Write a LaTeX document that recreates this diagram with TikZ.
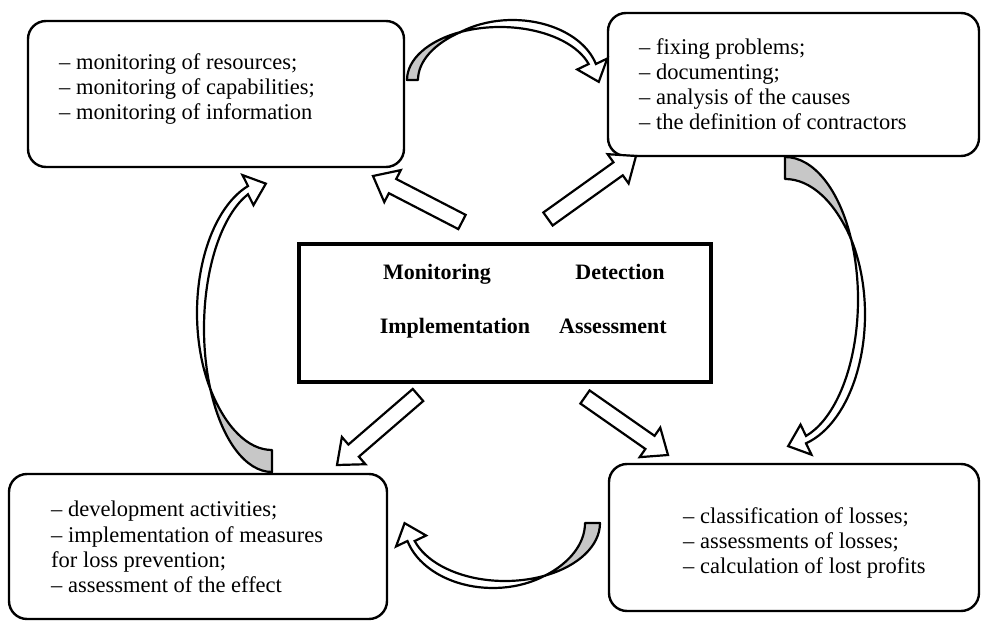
\documentclass[tikz,border=0pt]{standalone}
\usepackage{fontspec}
\setmainfont{Liberation Serif}
\usetikzlibrary{calc,positioning}

\tikzset{
  card/.style={draw, fill=white, line width=2.4pt, rounded corners=18pt, inner sep=0pt, outer sep=0pt},
  hub/.style={draw, fill=white, line width=3.6pt, inner sep=0pt, minimum width=412pt, minimum height=138pt},
  items/.style={inner sep=0pt, align=left, font=\fontsize{22.5}{25.3}\selectfont},
  stage/.style={inner sep=0pt, font=\fontsize{22}{26}\selectfont\bfseries},
  fatarr/.style={draw, fill=white, line width=2.2pt, line join=miter},
  ribtop/.style={draw, fill=white, line width=2.2pt, line join=miter},
  ribback/.style={draw, fill=black!22, line width=2.2pt, line join=round},
}

% hollow straight arrow from #1 to #2
\newcommand\fatarrow[2]{%
  \draw[fatarr] ($(#1)!8pt!90:(#2)$) -- ($(#2)!22pt!(#1)!8pt!90:(#2)$)
    -- ($(#2)!22pt!(#1)!18pt!90:(#2)$) -- (#2)
    -- ($(#2)!22pt!(#1)!18pt!-90:(#2)$) -- ($(#2)!22pt!(#1)!8pt!-90:(#2)$)
    -- ($(#1)!8pt!-90:(#2)$) -- cycle;}

% curved ribbon arrow: base, angle, span, height, base width, neck height
\newcommand\ribbon[6]{%
  \begin{scope}[shift={(#1)}, rotate=#2]
    \pgfmathsetmacro\ribA{#3/2}
    \pgfmathsetmacro\ribB{#4-7}
    \pgfmathsetmacro\ribxT{\ribA*(1+cos(115))}
    \pgfmathsetmacro\ribyT{\ribB*sin(115)}
    \pgfmathsetmacro\ribaG{(\ribxT-#5)/(1+cos(130))}
    \pgfmathsetmacro\ribbG{\ribyT/sin(130)}
    \pgfmathsetmacro\ribvO{180-asin(\ribyT/#4)}
    \pgfmathsetmacro\ribk{-1/cos(\ribvO)}
    \pgfmathsetmacro\ribc{(#3+6-\ribA-(\ribA-\ribxT)*\ribk)/(1+\ribk)}
    \pgfmathsetmacro\ribaO{(\ribA+\ribc-\ribxT)*\ribk}
    \pgfmathsetmacro\ribtN{asin(#6/\ribB)}
    \pgfmathsetmacro\ribvN{asin(#6/#4)}
    \pgfmathsetmacro\ribmx{(\ribA+\ribA*cos(\ribtN)+\ribA+\ribc+\ribaO*cos(\ribvN))/2}
    \draw[ribback] (0,0) arc[start angle=180, end angle=115, x radius=\ribA, y radius=\ribB]
      arc[start angle=130, end angle=180, x radius=\ribaG, y radius=\ribbG] -- cycle;
    \draw[ribtop] (\ribxT,\ribyT) arc[start angle=\ribvO, end angle=\ribvN, x radius=\ribaO, y radius=#4]
      -- ({\ribmx+16*cos(20)},{#6+16*sin(20)}) -- ({\ribmx+19*cos(-70)},{#6-19*sin(70)})
      -- ({\ribmx-16*cos(20)},{#6-16*sin(20)})
      -- ({\ribA+\ribA*cos(\ribtN)},#6) arc[start angle=\ribtN, end angle=115, x radius=\ribA, y radius=\ribB] -- cycle;
  \end{scope}}

\begin{document}
\begin{tikzpicture}[x=1pt,y=1pt]
  \useasboundingbox[fill=white] (0,0) rectangle (982,622);

  % outer boxes
  \node[card, minimum width=376pt, minimum height=146pt] (monitorbox) at (216,528) {};
  \node[card, minimum width=371pt, minimum height=143pt] (detectbox) at (793.5,537.5) {};
  \node[card, minimum width=378pt, minimum height=145pt] (implbox) at (198,75.5) {};
  \node[card, minimum width=370pt, minimum height=147pt] (assessbox) at (794,84.5) {};

  \node[items, anchor=north west] (monitorlist) at ([shift={(31,-32)}]monitorbox.north west)
    {– monitoring of resources;\\– monitoring of capabilities;\\– monitoring of information};
  \node[items, anchor=north west] (detectlist) at ([shift={(31,-25)}]detectbox.north west)
    {– fixing problems;\\– documenting;\\– analysis of the causes\\– the definition of contractors};
  \node[items, anchor=north west] (impllist) at ([shift={(42,-27)}]implbox.north west)
    {– development activities;\\– implementation of measures\\for loss prevention;\\– assessment of the effect};
  \node[items, anchor=north west] (assesslist) at ([shift={(74,-43)}]assessbox.north west)
    {– classification of losses;\\– assessments of losses;\\– calculation of lost profits};

  % centre
  \node[hub] (core) at (505,309) {};
  \node[stage, anchor=base] (monlabel) at ([shift={(-68,33)}]core.center) {Monitoring};
  \node[stage, anchor=base] (detlabel) at ([shift={(115,33)}]core.center) {Detection};
  \node[stage, anchor=base] (impllabel) at ([shift={(-50,-20)}]core.center) {Implementation};
  \node[stage, anchor=base] (asslabel) at ([shift={(108,-20)}]core.center) {Assessment};

  % straight arrows
  \coordinate (f1s) at (462,400); \coordinate (f1e) at (373,446);
  \coordinate (f2s) at (548,403); \coordinate (f2e) at (636,466);
  \coordinate (f3s) at (418,227); \coordinate (f3e) at (337,157);
  \coordinate (f4s) at (585,225); \coordinate (f4e) at (668,167);
  \fatarrow{f1s}{f1e}
  \fatarrow{f2s}{f2e}
  \fatarrow{f3s}{f3e}
  \fatarrow{f4s}{f4e}

  % curved arrows
  \coordinate (ra) at (407,542);
  \coordinate (rb) at (785,465);
  \coordinate (rc) at (600,99);
  \coordinate (rd) at (272,150);
  \ribbon{ra}{0}{186}{60}{11}{16}
  \ribbon{rb}{-90}{285}{80}{22}{21}
  \ribbon{rc}{180}{190}{65}{15}{18}
  \ribbon{rd}{90}{287}{75}{22}{24}
\end{tikzpicture}
\end{document}
